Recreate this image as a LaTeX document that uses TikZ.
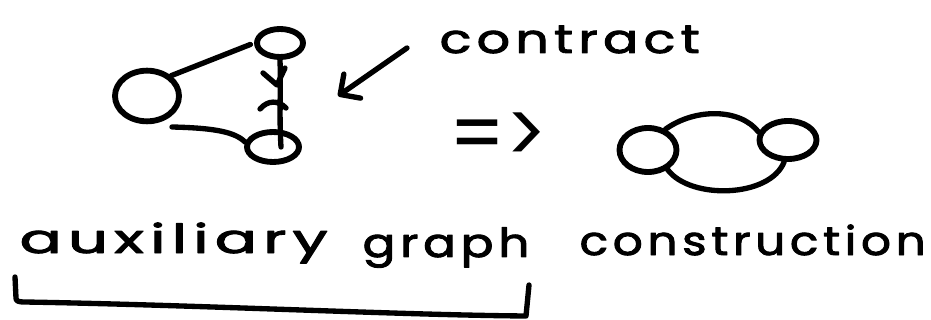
\documentclass[tikz,border=0pt]{standalone}
\usepackage{fontspec}
\setmainfont{Poppins}
\usetikzlibrary{shapes.geometric,arrows.meta}
\begin{document}
\begin{tikzpicture}[x=0.75pt,y=-0.75pt,line width=4pt,line cap=round,line join=round,
  blob/.style={ellipse,draw,inner sep=0pt,line width=4.4pt},
  hand/.style={anchor=base west,inner sep=0pt,font=\fontsize{30}{32}\selectfont\addfontfeature{FakeBold=2.2}}]
\useasboundingbox (0,0) rectangle (931,320);
\fill[white] (0,0) rectangle (931,320);

% left graph
\node[blob,minimum width=48pt,minimum height=38pt] (L1) at (147,96) {};
\node[blob,minimum width=34.5pt,minimum height=21pt] (T) at (280,43) {};
\node[blob,minimum width=39pt,minimum height=22.5pt] (B) at (273,147) {};
\draw[shorten >=3pt] (L1.40) -- (T.west);
\draw ([shift={(25,31)}]L1.center) .. controls (215,128) and (235,132) .. (B.170);
\draw (T.south) .. controls (281,90) and (279,115) .. ([xshift=6pt]B.center);
% contraction marks on the edge
\draw (263,73) -- (277,85) -- (285,68);
\draw (260,109) .. controls (268,100) and (278,100) .. (286,108);

% arrow and label
\coordinate (arrS) at (407,48);
\coordinate (arrE) at (338,96);
\draw[-{Straight Barb[length=11pt,width=22pt,round]}] (arrS) -- (arrE);
\node[hand] (con) at (437,53) {\resizebox{195pt}{\height}{\addfontfeature{LetterSpace=10}contract}};

% implies
\node[anchor=base west,inner sep=0pt,font=\fontsize{24}{26}\selectfont] (imp) at (447,164) {\resizebox{73.5pt}{38pt}{=>}};

% right graph
\node[blob,minimum width=42.75pt,minimum height=33pt] (R1) at (648,150) {};
\node[blob,minimum width=42.75pt,minimum height=28.5pt] (R2) at (788,140) {};
\draw (R1.50) .. controls (695,108) and (740,108) .. (R2.165);
\draw (R1.-45) .. controls (690,200) and (770,198) .. (R2.-100);

% bottom text
\node[hand] (aux) at (17,253) {\resizebox{231pt}{\height}{\addfontfeature{LetterSpace=10}auxiliary}};
\node[hand] (gra) at (360,257) {\resizebox{125pt}{\height}{\addfontfeature{LetterSpace=10}graph}};
\node[hand] (cst) at (577,255) {\resizebox{259.5pt}{\height}{\addfontfeature{LetterSpace=10}construction}};

% bracket
\draw (15,277) -- (16,298) .. controls (16,301) and (18,302) .. (25,302)
  .. controls (200,305) and (400,315) .. (526,316) -- (529,285);
\end{tikzpicture}
\end{document}
